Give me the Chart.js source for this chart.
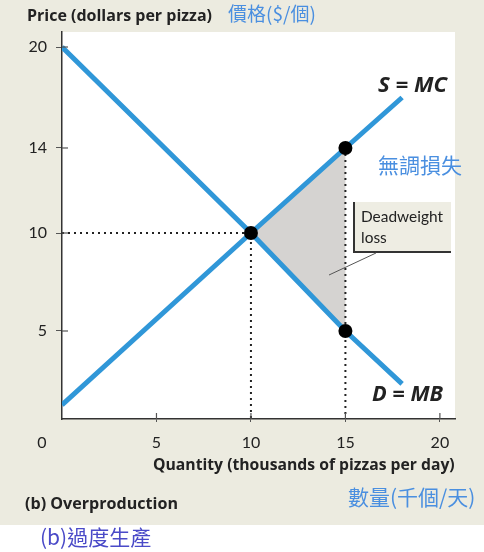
<!DOCTYPE html>
<html>
<head>
<meta charset="utf-8">
<script src="https://cdn.jsdelivr.net/npm/chart.js@4"></script>
<style>
  body { margin: 0; background: #fff; }
  #chart { display: block; }
</style>
</head>
<body>
<canvas id="chart" width="484" height="552"></canvas>
<script>
// datos del gráfico (mercado de pizzas, sobreproducción)
const qTicks = [5, 10, 15, 20];
const pTicks = [5, 10, 14, 20];

const demandQ = [0, 10, 15, 18];
const demandP = [20, 10, 5, 2];
const supplyQ = [0, 10, 15, 18];
const supplyP = [0.8, 10, 14, 17];

const dotQ = [10, 15, 15];
const dotP = [10, 14, 5];

const dwlQ = [10, 15, 15, 10];
const dwlP = [10, 14, 5, 10];

const guideQ = [0, 10, 10, null, 15, 15];
const guideP = [10, 10, 0, null, 14, 0];

const pts = (xs, ys) => xs.map((x, i) => ({ x: x, y: ys[i] }));

const BLUE = '#3097d8';
const INK = '#222';
const BEIGE = '#ecebe0';

// el eje de precios del libro no es lineal: se reproduce con una escala por tramos
const WARP_V = [0, 5, 10, 14, 20, 20.8];
const WARP_F = [0, 0.2274, 0.4806, 0.7003, 0.9612, 1];

function warp(v, from, to) {
    for (let i = 1; i < from.length; i++) {
        if (v <= from[i] || i === from.length - 1) {
            const t = (v - from[i - 1]) / (from[i] - from[i - 1]);
            return to[i - 1] + t * (to[i] - to[i - 1]);
        }
    }
    return to[0];
}

class WarpScale extends Chart.LinearScale {
    static id = 'warp';
    static defaults = Chart.LinearScale.defaults;
    getPixelForValue(value) {
        if (value === null || isNaN(value)) return NaN;
        return this.getPixelForDecimal(warp(value, WARP_V, WARP_F));
    }
    getValueForPixel(pixel) {
        return warp(this.getDecimalForPixel(pixel), WARP_F, WARP_V);
    }
}
Chart.register(WarpScale);

// ajusta el tamaño de letra para que el texto ocupe el ancho dado
function fitFont(ctx, text, width, style, family) {
    ctx.font = style + ' 10px ' + family;
    const size = 10 * width / ctx.measureText(text).width;
    ctx.font = style + ' ' + size.toFixed(2) + 'px ' + family;
}

const decor = {
    id: 'decor',
    beforeDraw(chart) {
        const { ctx, chartArea: a } = chart;
        ctx.save();
        ctx.fillStyle = BEIGE;
        ctx.fillRect(0, 0, chart.width, 525);
        ctx.fillStyle = '#fff';
        ctx.fillRect(0, 525, chart.width, chart.height - 525);
        ctx.fillRect(a.left, a.top, a.right - a.left, a.bottom - a.top);
        ctx.restore();
    },
    afterDraw(chart) {
        const { ctx, chartArea: a } = chart;
        const xs = chart.scales.x, ys = chart.scales.y;
        ctx.save();

        // marcas hacia dentro
        ctx.strokeStyle = '#555';
        ctx.lineWidth = 1.2;
        pTicks.forEach(v => {
            const y = ys.getPixelForValue(v);
            ctx.beginPath(); ctx.moveTo(a.left, y); ctx.lineTo(a.left + 6, y); ctx.stroke();
        });
        qTicks.forEach(v => {
            const x = xs.getPixelForValue(v);
            ctx.beginPath(); ctx.moveTo(x, a.bottom); ctx.lineTo(x, a.bottom - 6); ctx.stroke();
        });

        ctx.textBaseline = 'middle';
        ctx.fillStyle = INK;
        ctx.font = '16px Lato';
        ctx.textAlign = 'center';
        ctx.fillText('0', 42, 443);

        ctx.textAlign = 'left';
        fitFont(ctx, 'Price (dollars per pizza)', 185, 'bold', '"Open Sans"');
        ctx.fillText('Price (dollars per pizza)', 27, 16);
        fitFont(ctx, '(b) Overproduction', 153, 'bold', '"Open Sans"');
        ctx.fillText('(b) Overproduction', 25, 504);
        fitFont(ctx, 'Quantity (thousands of pizzas per day)', 302, 'bold', '"Open Sans"');
        ctx.fillText('Quantity (thousands of pizzas per day)', 153, 466);

        fitFont(ctx, 'S = MC', 69, 'italic bold', '"Open Sans"');
        ctx.fillText('S = MC', 378, 86);
        fitFont(ctx, 'D = MB', 71, 'italic bold', '"Open Sans"');
        ctx.fillText('D = MB', 372, 395);

        // caja de pérdida irrecuperable
        ctx.fillStyle = '#eeede3';
        ctx.fillRect(353, 202, 98, 51);
        ctx.strokeStyle = '#333';
        ctx.lineWidth = 2;
        ctx.beginPath(); ctx.moveTo(354, 202); ctx.lineTo(354, 252); ctx.lineTo(451, 252); ctx.stroke();
        ctx.strokeStyle = '#555';
        ctx.lineWidth = 1;
        ctx.beginPath(); ctx.moveTo(376, 253); ctx.lineTo(329, 275); ctx.stroke();
        ctx.fillStyle = INK;
        fitFont(ctx, 'Deadweight', 82, '', 'Lato');
        ctx.fillText('Deadweight', 361, 217);
        ctx.fillText('loss', 361, 238);

        // textos en chino
        ctx.fillStyle = '#4a8fe0';
        ctx.font = '19px "Noto Sans CJK TC"';
        ctx.fillText('價格($/個)', 228, 14);
        ctx.font = '21px "Noto Sans CJK TC"';
        ctx.fillText('無調損失', 378, 165);
        ctx.fillText('數量(千個/天)', 348, 497);
        ctx.fillStyle = '#4a4ac8';
        ctx.fillText('(b)過度生產', 40, 537);
        ctx.restore();
    }
};

new Chart(document.getElementById('chart'), {
    type: 'line',
    data: {
        datasets: [
            {
                data: pts(dotQ, dotP), showLine: false, order: 0,
                pointRadius: 7, pointBackgroundColor: '#000', pointBorderWidth: 0
            },
            {
                data: pts(demandQ, demandP), order: 1,
                borderColor: BLUE, borderWidth: 5, pointRadius: 0, tension: 0
            },
            {
                data: pts(supplyQ, supplyP), order: 1,
                borderColor: BLUE, borderWidth: 5, pointRadius: 0, tension: 0
            },
            {
                data: pts(guideQ, guideP), order: 2, spanGaps: false,
                borderColor: INK, borderWidth: 2, borderDash: [2, 4], pointRadius: 0
            },
            {
                data: pts(dwlQ, dwlP), order: 3, fill: 'shape',
                backgroundColor: '#d5d3d1', borderWidth: 0, pointRadius: 0
            }
        ]
    },
    options: {
        responsive: false,
        animation: false,
        layout: { padding: { top: 32, right: 29, left: 0, bottom: 0 } },
        plugins: { legend: { display: false }, tooltip: { enabled: false } },
        scales: {
            x: {
                type: 'linear', min: 0, max: 20.8,
                afterBuildTicks: (s) => { s.ticks = qTicks.map(v => ({ value: v })); },
                afterFit: (s) => { s.height = 133; },
                grid: { drawOnChartArea: false, tickLength: 3, color: '#555' },
                border: { color: '#333', width: 1.5 },
                ticks: { color: INK, font: { family: 'Lato', size: 16 }, padding: 11, maxRotation: 0 }
            },
            y: {
                type: 'warp', min: 0, max: 20.8,
                afterBuildTicks: (s) => { s.ticks = pTicks.map(v => ({ value: v })); },
                afterFit: (s) => { s.width = 62; },
                grid: { drawOnChartArea: false, tickLength: 6, color: '#555' },
                border: { color: '#333', width: 1.5 },
                ticks: { color: INK, font: { family: 'Lato', size: 16 }, padding: 9 }
            }
        }
    },
    plugins: [decor]
});
</script>
</body>
</html>
